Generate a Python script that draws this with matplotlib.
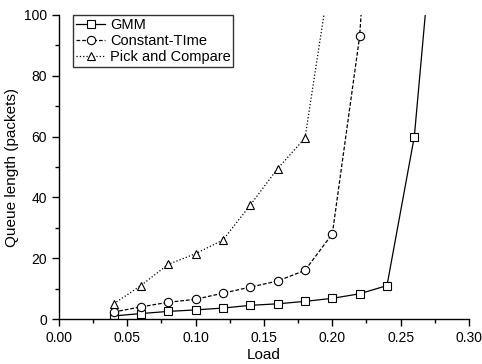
import matplotlib
matplotlib.use('Agg')
import matplotlib.pyplot as plt
from matplotlib.ticker import MultipleLocator

plt.rcParams['font.family'] = ['Liberation Sans', 'DejaVu Sans']

load_gmm = [0.04, 0.06, 0.08, 0.10, 0.12, 0.14, 0.16, 0.18, 0.20, 0.22, 0.24, 0.26, 0.28]
q_gmm = [1.0, 1.8, 2.5, 3.0, 3.6, 4.5, 5.0, 5.8, 6.8, 8.3, 11.0, 60.0, 160.0]

load_ct = [0.04, 0.06, 0.08, 0.10, 0.12, 0.14, 0.16, 0.18, 0.20, 0.22, 0.24]
q_ct = [2.3, 4.0, 5.5, 6.5, 8.5, 10.5, 12.5, 16.0, 28.0, 93.0, 230.0]

load_pc = [0.04, 0.06, 0.08, 0.10, 0.12, 0.14, 0.16, 0.18, 0.20]
q_pc = [5.0, 11.0, 18.0, 21.5, 26.0, 37.5, 49.5, 59.5, 118.0]

fig = plt.figure(figsize=(4.82, 3.64), dpi=100)
ax = fig.add_axes([0.1224, 0.1236, 0.8506, 0.8352])

mk = dict(markerfacecolor='white', markeredgecolor='black', markersize=6,
          markeredgewidth=0.8, color='black', linewidth=0.9)
ax.plot(load_gmm, q_gmm, '-', marker='s', label='GMM', **mk)
ax.plot(load_ct, q_ct, '--', marker='o', label='Constant-TIme', dashes=(3, 1.5), **mk)
ax.plot(load_pc, q_pc, ':', marker='^', label='Pick and Compare', **mk)

ax.set_xlim(0, 0.30)
ax.set_ylim(0, 100)
ax.xaxis.set_major_locator(MultipleLocator(0.05))
ax.xaxis.set_minor_locator(MultipleLocator(0.025))
ax.yaxis.set_major_locator(MultipleLocator(20))
ax.yaxis.set_minor_locator(MultipleLocator(10))
ax.xaxis.set_major_formatter(plt.FuncFormatter(lambda v, p: '%.2f' % v))

for s in ['top', 'right']:
    ax.spines[s].set_visible(False)
for s in ['left', 'bottom']:
    ax.spines[s].set_linewidth(1.0)
ax.tick_params(which='major', direction='out', length=5, width=1.0, labelsize=10)
ax.tick_params(which='minor', direction='out', length=3, width=1.0)

ax.set_xlabel('Load', fontsize=11, labelpad=2)
ax.set_ylabel('Queue length (packets)', fontsize=11)

leg = ax.legend(loc='upper left', bbox_to_anchor=(0.035, 1.0), fontsize=10.5,
                frameon=True, fancybox=False, handlelength=2.0, handletextpad=0.3,
                borderpad=0.2, labelspacing=0.15, borderaxespad=0.0)
leg.get_frame().set_edgecolor('black')
leg.get_frame().set_linewidth(1.0)

fig.savefig('out.png', dpi=100)
